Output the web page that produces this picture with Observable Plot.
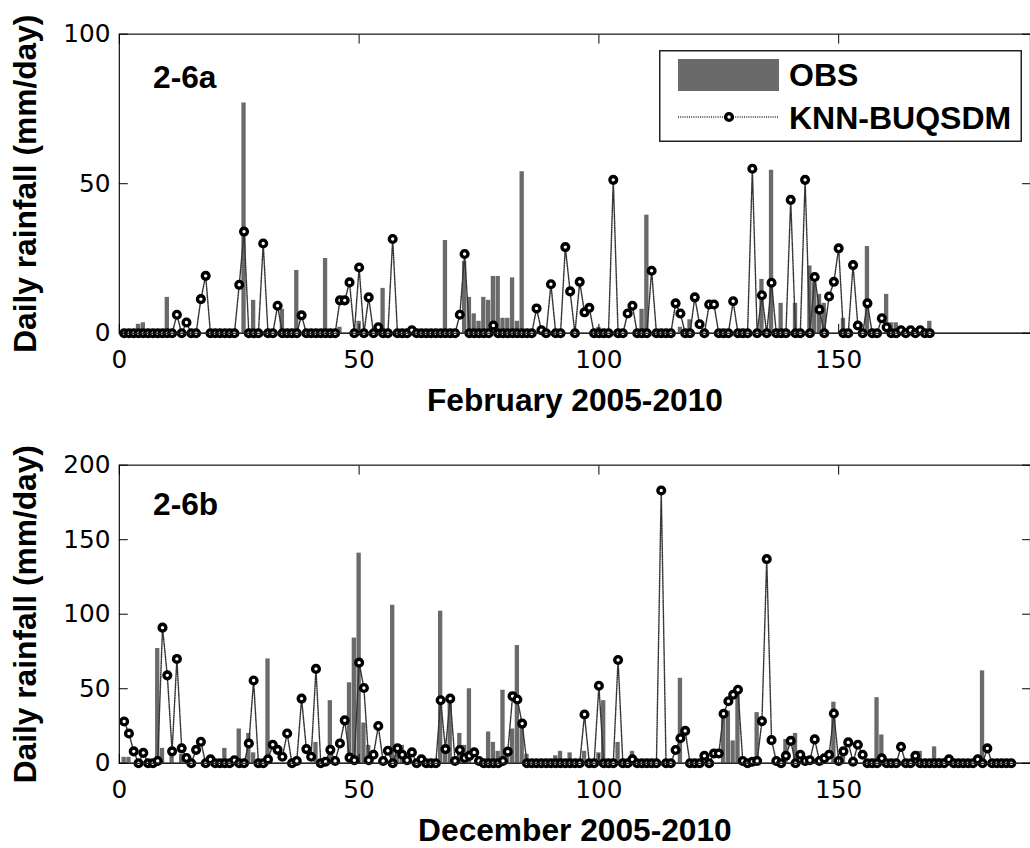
<!DOCTYPE html>
<html>
<head>
<meta charset="utf-8">
<script src="https://cdn.jsdelivr.net/npm/d3@7"></script>
<script src="https://cdn.jsdelivr.net/npm/@observablehq/plot@0.6"></script>
<style>
  html, body { margin: 0; padding: 0; background: #fff; overflow: hidden; width: 1030px; height: 848px; }
  #wrap { position: relative; width: 1030px; height: 848px; overflow: hidden; background: #fff; }
  .panel { position: absolute; left: 0; }
  #legend { position: absolute; left: 659px; top: 50px; width: 363px; height: 92px; }
</style>
</head>
<body>
<div id="wrap">
  <div id="top" class="panel" style="top:0px"></div>
  <div id="bot" class="panel" style="top:431px"></div>
  <div id="legend"></div>
</div>
<script>
// ---------- data ----------
const xTicks = [0, 50, 100, 150];
const febYTicks = [0, 50, 100];
const decYTicks = [0, 50, 100, 150, 200];

// February 2005-2010, days 1..169
const febObs = [
  0,0,0,3,3.5,0,0,0,0,12,
  0,0,0,0,0,0,0,0,0,0,
  0,0,0,0,0,77,0,11,0,0,
  0,0,0,8,0,0,21,0,0,0,
  0,0,25,0,0,2,0,0,0,4,
  0,0,0,0,15,0,0,0,0,0,
  0,0,0,0,0,0,0,31,0,0,
  0,24,12,6.5,4,12,11,19,19,5,
  5,18.5,4,54,0,0,0,0,0,0,
  0,0,0,0,0,0,0,0,0,2,
  0,0,0,0,0,0,0,0,8,39.5,
  0,0,0,0,0,0,2,0,4.5,0,
  0,0,0,0,0,0,0,0,0,0,
  0,0,0,18,0,54.5,0,10,0,0,
  10,0,0,22.5,17,13,10,0,0,0,
  5,0,0,0,0,29,0,0,0,13,
  3.5,3.5,0,0,0,0,0,0,4
];
const febKnn = [
  0,0,0,0,0,0,0,0,0,0,
  0,6.2,0,3.6,0,0,11.4,19.2,0,0,
  0,0,0,0,16.2,34,0,0,0,30,
  0,0,9.2,0,0,0,0,6,0,0,
  0,0,0,0,0,11,11,17,0,22,
  0,12,0,2,0,0,31.5,0,0,0,
  1,0,0,0,0,0,0,0,0,0,
  6.2,26.5,0,0,0,0,0,2.6,0,0,
  0,0,0,0,0,0,8.3,1,0,16.4,
  0,0,28.8,14,0,17.2,7,8.5,0,0,
  0,0,51.3,0,0,6.6,9.2,0,0,0,
  20.9,0,0,0,0,10,6.6,0,0,12,
  3,0,9.6,9.6,0,0,0,10.7,0,0,
  0,55,0,12.7,0,16.9,0,0,0,44.6,
  0,0,51.3,0,18.8,7.9,0,12.3,17.2,28.4,
  0,0,22.8,2.6,0,10,0,0,5,2,
  0,0,1,0,1,0,1,0,0
];

// December 2005-2010, days 1..186
const decObs = [
  4,4,0,0,0,0,0,77,10,0,
  6,0,6,0,0,0,0,0,0,0,
  0,10,0,0,23,0,20,7,0,0,
  70,0,0,0,0,0,0,0,0,0,
  14,0,0,42,0,0,0,54,84,141,
  27,12,0,0,0,0,106,10,12,0,
  0,0,0,0,0,0,102,10,44,0,
  20,12,50,0,0,0,21,14,8,49,
  10,23,79,24,6,0,0,0,0,0,
  5,8,0,7,0,0,8,0,0,7,
  42,0,0,14,0,0,8,0,0,0,
  0,0,0,0,0,0,57,0,0,0,
  0,0,0,0,0,33,35,15,48,0,
  0,0,34,0,0,0,0,0,16,0,
  20,0,0,0,0,0,0,0,41,0,
  10,0,0,0,0,0,0,44,19,0,
  0,0,0,0,0,0,8,0,0,11,
  3,3,0,0,2,0,0,0,0,62,
  0,0,0,0,0,0
];
const decKnn = [
  28,20,8,0,7,0,0,1.5,91,59,
  8,70,10,3.5,0,9,14.4,0,2.6,0,
  0,0,0,2,0,0,13.3,55.5,0,0,
  2.6,12.4,9,4.4,20,0,1.5,43.4,9.5,4.4,
  63.3,0,1,9,1.5,13.3,28.8,3.8,2,67.5,
  50.5,2,5.7,25,1.5,8.4,0,10,5.7,2,
  7.3,0,2.6,0,0,0,42.3,9.5,43.4,1.5,
  8.9,3.5,5,7.3,1.5,0,0,0,0,1.5,
  7.8,45,42.8,26.6,0,0,0,0,0,0,
  0,0,0,0,0,0,32.7,0,0,52,
  0,0,0,69.3,0,0,2.6,0,0,0,
  0,0,183,0,0,8.9,16.8,21.7,0,0,
  0,5,0,6.6,6.6,33.2,41.6,46,49.3,1.5,
  0,1,1.5,28.3,137,15.5,1.5,0,5,15,
  0,5.7,1.5,2,16,1.5,3.3,5.7,33.4,1.5,
  8,14,1,12.4,5.7,0,0,0,3.3,0,
  0,0,11,0,0,5,0,0,0,0,
  0,0,2.6,0,0,0,0,0,2.6,0,
  10,0,0,0,0,0
];

// ---------- styling ----------
const BOLD = "'Liberation Sans', Arial, Helvetica, sans-serif";
const TICKFONT = "'DejaVu Sans', 'Liberation Sans', sans-serif";
const BAR = "#6a6a6a";

function panel({obs, knn, yMax, yTicks, xlabel, tag, tagDy, height, marginBottom}) {
  const rows = obs.map((v, i) => ({day: i + 1, obs: v, knn: knn[i]}));
  return Plot.plot({
    width: 1040,
    height,
    marginLeft: 120,
    marginRight: 0,
    marginTop: 34,
    marginBottom,
    x: {domain: [0, 190], label: null},
    y: {domain: [0, yMax], label: null},
    style: {background: "white", overflow: "visible"},
    marks: [
      Plot.rectY(rows, {x1: d => d.day - 0.45, x2: d => d.day + 0.45, y: "obs", fill: BAR}),
      Plot.ruleY([0], {stroke: "#555", strokeWidth: 1.5}),
      Plot.line(rows, {x: "day", y: "knn", stroke: "#333", strokeWidth: 1.5, strokeDasharray: "1,1.2"}),
      Plot.dot(rows, {x: "day", y: "knn", r: 3.4, stroke: "#000", strokeWidth: 3.4, fill: "#fff"}),
      Plot.frame({stroke: "#222", strokeWidth: 1.3}),
      Plot.axisX(xTicks, {anchor: "bottom", tickSize: 0, tickPadding: 17, fontSize: 25, fontFamily: TICKFONT, label: null}),
      Plot.axisX(xTicks, {anchor: "bottom", tickSize: -9, tickFormat: () => "", label: null}),
      Plot.axisX(xTicks, {anchor: "top", tickSize: -9, tickFormat: () => "", label: null}),
      Plot.axisY(yTicks, {anchor: "left", tickSize: 0, tickPadding: 9, fontSize: 25, fontFamily: TICKFONT, label: null}),
      Plot.axisY(yTicks, {anchor: "left", tickSize: -9, tickFormat: () => "", label: null}),
      Plot.axisY(yTicks, {anchor: "right", tickSize: -9, tickFormat: () => "", label: null}),
      Plot.text([xlabel], {frameAnchor: "bottom", dy: 56, lineAnchor: "top", textAnchor: "middle",
        fontSize: 32, fontWeight: "bold", fontFamily: BOLD}),
      Plot.text(["Daily rainfall (mm/day)"], {frameAnchor: "left", dx: -94, rotate: -90, lineAnchor: "middle",
        textAnchor: "middle", fontSize: 32, fontWeight: "bold", fontFamily: BOLD}),
      Plot.text([tag], {frameAnchor: "top-left", dx: 34, dy: tagDy, lineAnchor: "top", textAnchor: "start",
        fontSize: 32, fontWeight: "bold", fontFamily: BOLD})
    ]
  });
}

document.getElementById("top").append(panel({
  obs: febObs, knn: febKnn, yMax: 100, yTicks: febYTicks,
  xlabel: "February 2005-2010", tag: "2-6a", tagDy: 32, height: 430, marginBottom: 94
}));
document.getElementById("bot").append(panel({
  obs: decObs, knn: decKnn, yMax: 200, yTicks: decYTicks,
  xlabel: "December 2005-2010", tag: "2-6b", tagDy: 28, height: 417, marginBottom: 82
}));

// ---------- legend ----------
const lg = d3.select("#legend").append("svg").attr("width", 363).attr("height", 92);
lg.append("rect").attr("x", 0.75).attr("y", 0.75).attr("width", 361.5).attr("height", 90.5)
  .attr("fill", "#fff").attr("stroke", "#222").attr("stroke-width", 1.5);
lg.append("rect").attr("x", 19).attr("y", 9).attr("width", 101).attr("height", 32).attr("fill", BAR);
lg.append("text").attr("x", 130).attr("y", 36).text("OBS")
  .attr("font-family", BOLD).attr("font-size", 32).attr("font-weight", "bold");
lg.append("line").attr("x1", 19).attr("x2", 120).attr("y1", 67).attr("y2", 67)
  .attr("stroke", "#333").attr("stroke-width", 1.5).attr("stroke-dasharray", "1,1.2");
lg.append("circle").attr("cx", 70).attr("cy", 67).attr("r", 3.4)
  .attr("stroke", "#000").attr("stroke-width", 3.4).attr("fill", "#fff");
lg.append("text").attr("x", 130).attr("y", 79).text("KNN-BUQSDM")
  .attr("font-family", BOLD).attr("font-size", 32).attr("font-weight", "bold");
</script>
</body>
</html>
